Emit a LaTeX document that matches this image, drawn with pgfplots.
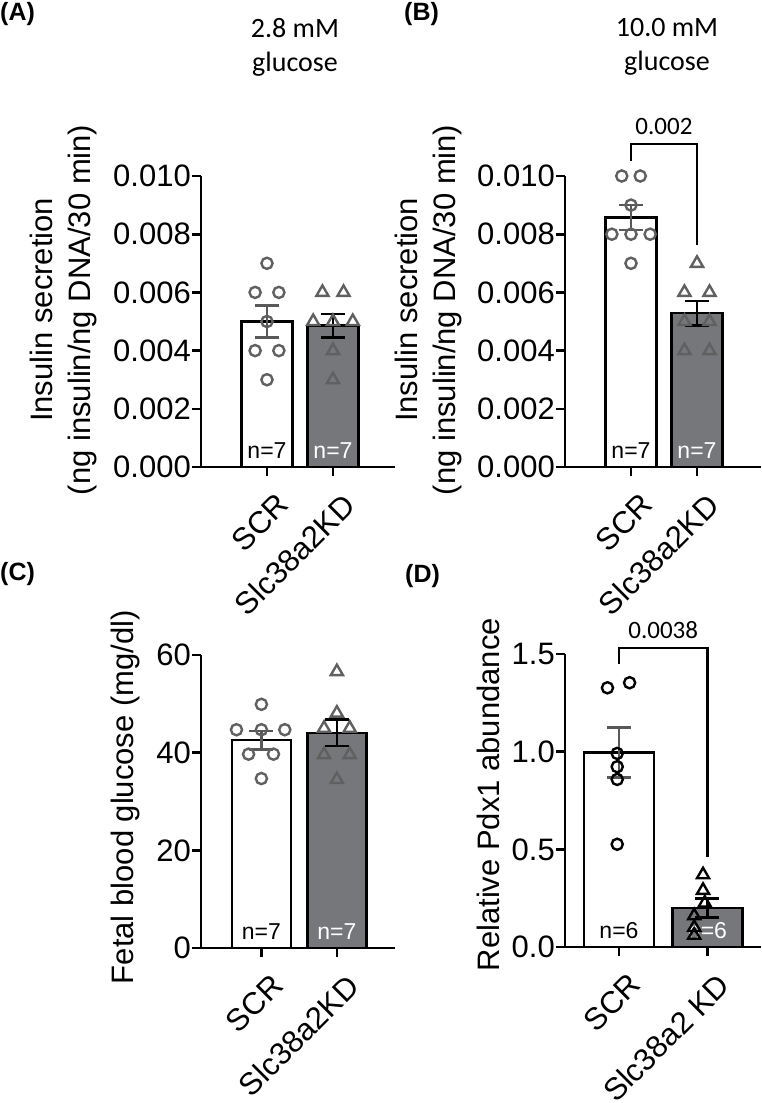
\documentclass[border=0pt]{standalone}
\usepackage{fontspec}
\setmainfont{Liberation Sans}
\newfontfamily\calfont{Carlito}
\usepackage{pgfplots}
\usepackage{pgfplotstable}
\pgfplotsset{compat=1.18}
\definecolor{mk}{RGB}{96,96,96}
\definecolor{kdfill}{RGB}{118,119,123}
\definecolor{eb}{RGB}{88,88,88}

% Panel A
\pgfplotstableread{
x y
0 0.007
-0.18 0.006
0.18 0.006
0 0.005
-0.18 0.004
0.18 0.004
0 0.003
}\ascr
\pgfplotstableread{
x y
0.84 0.006
1.16 0.006
0.70 0.005
1.00 0.005
1.30 0.005
1.00 0.004
1.00 0.003
}\akd
% Panel B
\pgfplotstableread{
x y
-0.14 0.010
0.14 0.010
0 0.009
-0.29 0.008
0 0.008
0.29 0.008
0 0.007
}\bscr
\pgfplotstableread{
x y
1.00 0.007
0.81 0.006
1.19 0.006
0.81 0.005
1.19 0.005
0.81 0.004
1.19 0.004
}\bkd
% Panel C
\pgfplotstableread{
x y
0 49.9
-0.33 44.7
0 44.7
0.31 44.7
-0.17 39.7
0.16 39.7
0 34.7
}\cscr
\pgfplotstableread{
x y
1.00 56.6
1.00 48.1
0.83 45.0
1.17 45.0
0.83 39.6
1.17 39.6
1.00 34.5
}\ckd
% Panel D
\pgfplotstableread{
x y
-0.13 1.327
0.12 1.353
-0.02 0.991
-0.02 0.923
-0.02 0.858
-0.02 0.526
}\dscr
\pgfplotstableread{
x y
0.95 0.37
0.95 0.29
0.97 0.225
0.85 0.16
0.85 0.10
0.85 0.06
}\dkd

\pgfplotsset{
  panel/.style={
    scale only axis,
    anchor=south west,
    axis x line*=bottom, axis y line*=left,
    axis line style={line width=2.6pt, black},
    tick style={line width=2.6pt, black},
    major tick length=9pt,
    tick align=outside,
    xtick={0,1},
    ymin=0,
    clip=false,
    scaled y ticks=false,
    tick label style={font=\fontsize{31}{36}\selectfont},
    label style={font=\fontsize{31}{38}\selectfont},
    /pgf/number format/assume math mode=true,
    xticklabel style={rotate=45, anchor=north east, inner sep=1pt, xshift=-4pt, yshift=-16pt},
    yticklabel style={inner xsep=1pt},
    ylabel style={anchor=center, align=center},
  },
  scrbar/.style={ybar, bar shift=0pt, fill=white, draw=black, line width=2.6pt},
  kdbar/.style={ybar, bar shift=0pt, fill=kdfill, draw=black, line width=2.6pt},
  circ/.style={only marks, mark=o, mark size=5.6pt, line width=2.4pt, draw=#1},
  tri/.style={only marks, mark=triangle, mark size=7pt, line width=2.4pt, draw=#1},
  ebar/.style={#1, mark=none, line width=2.6pt,
    error bars/.cd, y dir=both, y explicit,
    error bar style={line width=2.6pt, #1},
    error mark options={rotate=90, mark size=12pt, line width=2.6pt, #1}},
}
\tikzset{nlab/.style={font=\fontsize{23}{26}\selectfont, anchor=base, yshift=9pt}}

\begin{document}
\begin{tikzpicture}
\useasboundingbox (0pt,0pt) rectangle (761pt,-1103pt);

% ---------------- Panel A ----------------
\begin{axis}[panel, at={(201pt,-467pt)}, width=194pt, height=291pt,
  xmin=-1, xmax=1.94, ymax=0.010,
  ytick={0,0.002,0.004,0.006,0.008,0.010},
  yticklabel style={/pgf/number format/fixed, /pgf/number format/fixed zerofill, /pgf/number format/precision=3},
  xticklabels={SCR,Slc38a2KD},
  ylabel={Insulin secretion\\(ng insulin/ng DNA/30 min)},
  ylabel style={at={(axis description cs:-0.71,0.54)}},
  bar width=0.77]
\addplot[scrbar] coordinates {(0,0.005)};
\addplot[kdbar] coordinates {(1,0.00486)};
\addplot[circ=mk] table[x=x,y=y] {\ascr};
\addplot[tri=mk] table[x=x,y=y] {\akd};
\addplot[ebar=eb] coordinates {(0,0.005) +- (0,0.00054)};
\addplot[ebar=black] coordinates {(1,0.00486) +- (0,0.0004)};
\node[nlab, black] at (axis cs:0,0) {n=7};
\node[nlab, white] at (axis cs:1,0) {n=7};
\end{axis}

% ---------------- Panel B ----------------
\begin{axis}[panel, at={(565pt,-467pt)}, width=196pt, height=291pt,
  xmin=-1, xmax=1.97, ymax=0.010,
  ytick={0,0.002,0.004,0.006,0.008,0.010},
  yticklabel style={/pgf/number format/fixed, /pgf/number format/fixed zerofill, /pgf/number format/precision=3},
  xticklabels={SCR,Slc38a2KD},
  ylabel={Insulin secretion\\(ng insulin/ng DNA/30 min)},
  ylabel style={at={(axis description cs:-0.696,0.54)}},
  bar width=0.77]
\addplot[scrbar] coordinates {(0,0.00857)};
\addplot[kdbar] coordinates {(1,0.00529)};
\addplot[circ=mk] table[x=x,y=y] {\bscr};
\addplot[tri=mk] table[x=x,y=y] {\bkd};
\addplot[ebar=eb] coordinates {(0,0.00857) +- (0,0.00043)};
\addplot[ebar=black] coordinates {(1,0.00529) +- (0,0.00042)};
\node[nlab, black] at (axis cs:0,0) {n=7};
\node[nlab, white] at (axis cs:1,0) {n=7};
\draw[line width=2.6pt] (axis cs:0,0.01052) -- (axis cs:0,0.0111) -- (axis cs:1,0.0111) -- (axis cs:1,0.00763);
\node[font=\calfont\fontsize{25}{30}\selectfont, anchor=south, inner sep=0pt] at (axis cs:0.5,0.0114) {0.002};
\end{axis}

% ---------------- Panel C ----------------
\begin{axis}[panel, at={(201pt,-948pt)}, width=194pt, height=293pt,
  xmin=-0.8, xmax=1.77, ymax=60,
  ytick={0,20,40,60},
  xticklabels={SCR,Slc38a2KD},
  ylabel={Fetal blood glucose (mg/dl)},
  ylabel style={at={(axis description cs:-0.387,0.515)}},
  bar width=0.78]
\addplot[scrbar] coordinates {(0,42.57)};
\addplot[kdbar] coordinates {(1,44.06)};
\addplot[circ=mk] table[x=x,y=y] {\cscr};
\addplot[tri=mk] table[x=x,y=y] {\ckd};
\addplot[ebar=eb] coordinates {(0,42.57) +- (0,1.9)};
\addplot[ebar=black] coordinates {(1,44.06) +- (0,2.7)};
\node[nlab, black] at (axis cs:0,0) {n=7};
\node[nlab, white] at (axis cs:1,0) {n=7};
\end{axis}

% ---------------- Panel D ----------------
\begin{axis}[panel, at={(565pt,-947pt)}, width=196pt, height=293pt,
  xmin=-0.61, xmax=1.605, ymax=1.5,
  ytick={0,0.5,1.0,1.5},
  yticklabel style={/pgf/number format/fixed, /pgf/number format/fixed zerofill, /pgf/number format/precision=1},
  xticklabels={SCR,Slc38a2 KD},
  ylabel={Relative Pdx1 abundance},
  ylabel style={at={(axis description cs:-0.393,0.52)}},
  bar width=0.79]
\addplot[scrbar] coordinates {(0,0.996)};
\addplot[kdbar] coordinates {(1,0.199)};
\addplot[circ=black] table[x=x,y=y] {\dscr};
\addplot[tri=black] table[x=x,y=y] {\dkd};
\addplot[ebar=eb] coordinates {(0,0.996) +- (0,0.127)};
\addplot[ebar=black] coordinates {(1,0.199) +- (0,0.048)};
\node[nlab, black] at (axis cs:0,0) {n=6};
\node[nlab, white] at (axis cs:1,0) {n=6};
\draw[line width=2.6pt] (axis cs:0,1.449) -- (axis cs:0,1.531) -- (axis cs:1,1.531) -- (axis cs:1,0.461);
\node[font=\calfont\fontsize{25}{30}\selectfont, anchor=south, inner sep=0pt] at (axis cs:0.5,1.575) {0.0038};
\end{axis}

% panel letters and titles
\node[anchor=west, inner sep=0pt, font=\bfseries\fontsize{25}{30}\selectfont] at (0pt,-14pt) {(A)};
\node[anchor=west, inner sep=0pt, font=\bfseries\fontsize{25}{30}\selectfont] at (404pt,-14pt) {(B)};
\node[anchor=west, inner sep=0pt, font=\bfseries\fontsize{25}{30}\selectfont] at (0pt,-574pt) {(C)};
\node[anchor=west, inner sep=0pt, font=\bfseries\fontsize{25}{30}\selectfont] at (405pt,-576pt) {(D)};
\node[align=center, font=\calfont\fontsize{28}{34}\selectfont] at (295pt,-47pt) {2.8 mM\\glucose};
\node[align=center, font=\calfont\fontsize{28}{34}\selectfont] at (667pt,-47pt) {10.0 mM\\glucose};
\end{tikzpicture}
\end{document}
